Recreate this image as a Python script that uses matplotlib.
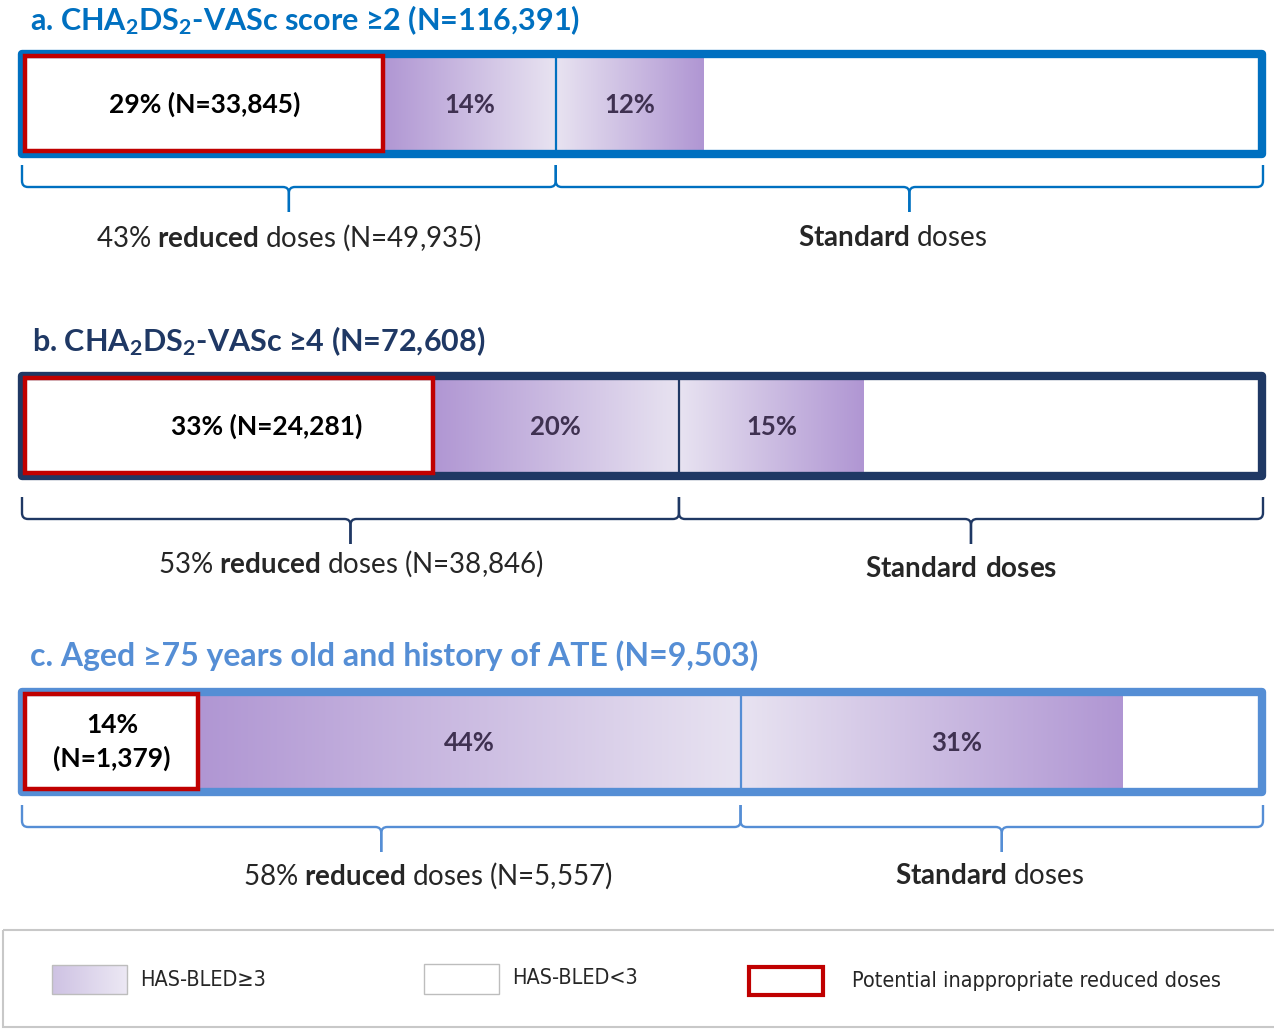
import numpy as np
import matplotlib.pyplot as plt
from matplotlib.patches import Rectangle, PathPatch
from matplotlib.path import Path
from matplotlib.colors import to_rgb

plt.rcParams['font.family'] = ['Lato', 'DejaVu Sans']
plt.rcParams['mathtext.fontset'] = 'custom'
plt.rcParams['mathtext.bf'] = 'Lato:bold'
plt.rcParams['mathtext.rm'] = 'Lato:bold'
plt.rcParams['mathtext.default'] = 'bf'

# data (percent of each population)
titles = [r'a. CHA$_2$DS$_2$-VASc score ≥2 (N=116,391)',
          r'b. CHA$_2$DS$_2$-VASc ≥4 (N=72,608)',
          'c. Aged ≥75 years old and history of ATE (N=9,503)']
inappropriate = [29, 33, 14]
inappropriate_n = ['33,845', '24,281', '1,379']
reduced_hb3 = [14, 20, 44]
standard_hb3 = [12, 15, 31]
reduced_total = [43, 53, 58]
reduced_n = ['49,935', '38,846', '5,557']
standard_labels = [r'$\mathbf{Standard}$ doses', r'$\mathbf{Standard\ doses}$',
                   r'$\mathbf{Standard}$ doses']
legend_labels = ['HAS-BLED≥3', 'HAS-BLED<3', 'Potential inappropriate reduced doses']

# layout (pixels)
W, H = 1274, 1029
X0, PX = 26, 12.32          # pixel of 0 %, pixels per %
frame_cols = ['#0070C0', '#1F3864', '#558ED5']
title_cols = ['#0070C0', '#1F3864', '#558ED5']
title_size = [22, 22, 23]
bar_top = [58, 380, 696]
bar_bot = [150, 472, 788]
title_y = [20, 341, 656]
brace_top = [165, 497, 805]
label_y = [238, 564, 876]
std_label_y = [238, 569, 876]
red_off = [0, 3, 0]
std_hb3_off = [0, 0, 2]
left_lab_off = [0, 0, 3.8]
std_lab_off = [-1.4, -0.8, -1.0]

dark = np.array(to_rgb('#B096D3'))
light = np.array(to_rgb('#E8E3F1'))
red = '#C00000'
purple_txt = '#3F3151'


def px(x):
    return (x - X0) / PX


def gradient(ax, x0, x1, y0, y1, reverse=False):
    t = np.linspace(0, 1, 200)
    if reverse:
        t = t[::-1]
    img = dark[None, None, :] * (1 - t[None, :, None]) + light[None, None, :] * t[None, :, None]
    ax.imshow(img, extent=[x0, x1, y1, y0], aspect='auto', interpolation='bilinear', zorder=1)


def brace(ax, x0, x1, ytop, color):
    yh = ytop + 22
    ytip = ytop + 47
    xm = (x0 + x1) / 2
    rx, ry = 6 / PX, 6
    for a, s in [(x0, 1), (x1, -1)]:
        verts = [(a, ytop), (a, yh - ry), (a, yh), (a + s * rx, yh),
                 (xm - s * rx, yh), (xm, yh), (xm, yh + ry), (xm, ytip)]
        codes = [Path.MOVETO, Path.LINETO, Path.CURVE3, Path.CURVE3,
                 Path.LINETO, Path.CURVE3, Path.CURVE3, Path.LINETO]
        ax.add_patch(PathPatch(Path(verts, codes), fill=False, ec=color, lw=1.7, zorder=3))


fig = plt.figure(figsize=(W / 100, H / 100), dpi=100)
ax = fig.add_axes([0, 0, 1, 1])

for i in range(3):
    top, bot = bar_top[i], bar_bot[i]
    col = frame_cols[i]
    a = inappropriate[i]
    b = a + reduced_hb3[i]
    c = b + standard_hb3[i]

    gradient(ax, a, b, top, bot)
    gradient(ax, b, c, top, bot, reverse=True)
    ax.plot([b, b], [top, bot], color=col, lw=1.6, zorder=2)

    # outer frame
    ax.add_patch(Rectangle((px(22), top - 4), px(1262) - px(22), bot - top + 8,
                           fill=False, ec=col, lw=6, zorder=4, joinstyle='round'))
    # inappropriate reduced doses box
    ax.add_patch(Rectangle((px(24.5), top - 2), a - px(24.5), bot - top + 3,
                           fill=False, ec=red, lw=3.2, zorder=5))

    ym = (top + bot) / 2
    if a < 20:
        lab = f'{a}%\n(N={inappropriate_n[i]})'
    else:
        lab = f'{a}% (N={inappropriate_n[i]})'
    ax.text(a / 2 + red_off[i], ym, lab, ha='center', va='center', fontsize=19,
            fontweight='bold', color='black', linespacing=1.45, zorder=6)
    ax.text((a + b) / 2, ym + 1, f'{reduced_hb3[i]}%', ha='center', va='center',
            fontsize=18.5, fontweight='bold', color=purple_txt, zorder=6)
    ax.text((b + c) / 2 + std_hb3_off[i], ym + 1, f'{standard_hb3[i]}%', ha='center',
            va='center', fontsize=18.5, fontweight='bold', color=purple_txt, zorder=6)

    ax.text(px(30) + (2 if i == 1 else 0) / PX, title_y[i], titles[i], ha='left', va='center',
            fontsize=title_size[i], fontweight='bold', color=title_cols[i])

    brace(ax, px(22), b, brace_top[i], col)
    brace(ax, b, px(1263), brace_top[i], col)

    ax.text(px(22) / 2 + b / 2 + left_lab_off[i], label_y[i],
            f'{reduced_total[i]}% ' + r'$\mathbf{reduced}$' + f' doses (N={reduced_n[i]})',
            ha='center', va='center', fontsize=20, color='#262626')
    ax.text((b + px(1263)) / 2 + std_lab_off[i], std_label_y[i], standard_labels[i],
            ha='center', va='center', fontsize=20, color='#262626')

# legend panel
ax.add_patch(Rectangle((px(3), 930), px(1290) - px(3), 97, fill=False,
                       ec='#C8C8C8', lw=1.5, zorder=2))
t = np.linspace(0, 1, 100)
sw = np.array(to_rgb('#CEC2E3'))[None, None, :] * (1 - t[None, :, None]) + \
    np.array(to_rgb('#ECE8F4'))[None, None, :] * t[None, :, None]
ax.imshow(sw, extent=[px(52), px(127), 994, 965], aspect='auto', zorder=3)
ax.add_patch(Rectangle((px(52), 965), px(127) - px(52), 29, fill=False, ec='#BDBDBD', lw=1, zorder=4))
ax.add_patch(Rectangle((px(424), 964), px(499) - px(424), 30, fc='white', ec='#BDBDBD', lw=1, zorder=4))
ax.add_patch(Rectangle((px(749), 967), px(823) - px(749), 28, fill=False, ec=red, lw=3, zorder=4))
leg_kw = dict(ha='left', va='center', fontsize=15.5, family='DejaVu Sans',
              fontstretch='condensed', color='#262626')
ax.text(px(140), 980, legend_labels[0], **leg_kw)
ax.text(px(512), 978, legend_labels[1], **leg_kw)
ax.text(px(852), 981, legend_labels[2], **leg_kw)

ax.set_xlim(px(0), px(W))
ax.set_ylim(H, 0)
ax.axis('off')
fig.savefig('out.png', dpi=100, facecolor='white')
